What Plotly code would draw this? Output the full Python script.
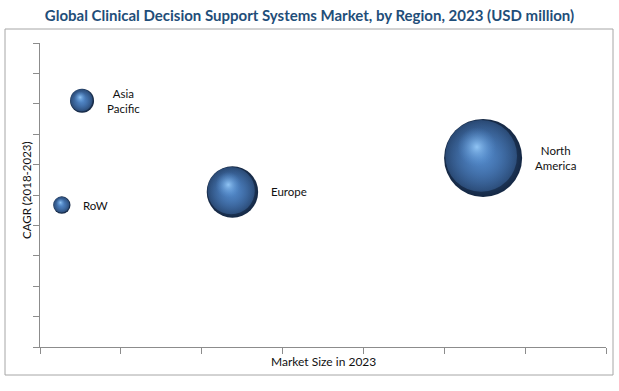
import plotly.graph_objects as go

regions = ["Asia<br>Pacific", "RoW", "Europe", "North<br>America"]
market_size = [0.52, 0.27, 2.38, 5.48]
cagr = [8.1, 4.67, 5.1, 6.22]

W, H = 619, 391
L, R, T, B = 40, 13, 43, 44
xr, yr = [0, 7], [0, 10]
pw, ph = W - L - R, H - T - B
pxx = pw / (xr[1] - xr[0])
pxy = ph / (yr[1] - yr[0])

sizeref = 1.8e-3
diam = [2 * (v / (2 * sizeref)) ** 0.5 for v in market_size]


def shifted(fx, fy):
    xs = [x + fx * d / pxx for x, d in zip(market_size, diam)]
    ys = [y + fy * d / pxy for y, d in zip(cagr, diam)]
    return xs, ys


fig = go.Figure()
# dark base sphere (marker.color = edge, gradient.color = centre)
fig.add_trace(go.Scatter(
    x=market_size, y=cagr, mode="markers",
    marker=dict(size=market_size, sizemode="area", sizeref=sizeref, opacity=1,
                color="#152844", line=dict(width=0),
                gradient=dict(type="radial", color="#3d6dac")),
    hoverinfo="skip", showlegend=False))

# lit body
bx, by = shifted(-0.025, 0.025)
fig.add_trace(go.Scatter(
    x=bx, y=by, mode="markers",
    marker=dict(size=[d * 0.92 for d in diam], color="rgba(70,118,180,0.4)", opacity=1,
                line=dict(width=0),
                gradient=dict(type="radial", color="#548bcb")),
    hoverinfo="skip", showlegend=False))

# specular highlight
hx, hy = shifted(-0.08, 0.14)
fig.add_trace(go.Scatter(
    x=hx, y=hy, mode="markers",
    marker=dict(size=[d * 0.5 for d in diam], color="rgba(84,139,203,0)",
                opacity=1, line=dict(width=0),
                gradient=dict(type="radial", color="rgba(148,200,247,0.95)")),
    hoverinfo="skip", showlegend=False))

for name, x, y, d in zip(regions, market_size, cagr, diam):
    fig.add_annotation(x=x, y=y, text=name, showarrow=False, xanchor="left",
                       xshift=d / 2 + 11, align="center",
                       font=dict(family="Lato", size=11.5, color="#111111"))

fig.add_shape(type="rect", xref="paper", yref="paper",
              x0=(5 - L) / pw, x1=(613 - L) / pw,
              y0=(H - B - 375) / ph, y1=(H - B - 29) / ph,
              line=dict(color="#a6a6a6", width=1), fillcolor="rgba(0,0,0,0)", layer="below")

# axis titles
fig.add_annotation(xref="paper", yref="paper", x=0, y=0.5, xanchor="center", yanchor="middle",
                   xshift=-14, yshift=5, textangle=-90, showarrow=False,
                   text="CAGR (2018-2023)", font=dict(family="Lato", size=11.5, color="#111111"))
fig.add_annotation(xref="paper", yref="paper", x=0.5, y=0, xanchor="center", yanchor="middle",
                   yshift=-14, showarrow=False,
                   text="Market Size in 2023", font=dict(family="Lato", size=12, color="#111111"))

axis_common = dict(showgrid=False, zeroline=False, showline=True, linecolor="#8c8c8c",
                   linewidth=1, ticks="outside", ticklen=6, tickcolor="#8c8c8c",
                   showticklabels=False, dtick=1, automargin=False)
fig.update_xaxes(range=xr, **axis_common)
fig.update_yaxes(range=yr, **axis_common)

fig.update_layout(
    width=W, height=H, margin=dict(l=L, r=R, t=T, b=B, autoexpand=False),
    paper_bgcolor="white", plot_bgcolor="white",
    title=dict(text="<b>Global Clinical Decision Support Systems Market, by Region, 2023 (USD million)</b>",
               x=0.5, xanchor="center", y=0.959, yanchor="middle",
               font=dict(family="Lato", size=15, color="#1f4e79")),
)

fig.write_html("out.html", config={"displayModeBar": False},
               post_script="document.body.style.margin='0';")
